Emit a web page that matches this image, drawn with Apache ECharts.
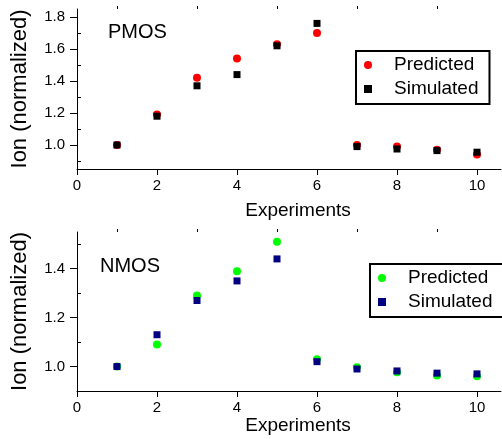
<!DOCTYPE html>
<html>
<head>
<meta charset="utf-8">
<script src="https://cdn.jsdelivr.net/npm/echarts@6/dist/echarts.min.js"></script>
<style>
html,body{margin:0;padding:0;background:#fff;}
#c{width:502px;height:439px;}
</style>
</head>
<body>
<div id="c"></div>
<script>
const experiments = [1, 2, 3, 4, 5, 6, 7, 8, 9, 10];
const pmosPredicted = [1.00, 1.19, 1.42, 1.54, 1.63, 1.70, 1.00, 0.99, 0.97, 0.94];
const pmosSimulated = [1.00, 1.18, 1.37, 1.44, 1.62, 1.76, 0.99, 0.975, 0.965, 0.955];
const nmosPredicted = [1.00, 1.09, 1.29, 1.39, 1.51, 1.03, 0.997, 0.977, 0.963, 0.96];
const nmosSimulated = [1.00, 1.13, 1.27, 1.35, 1.44, 1.02, 0.99, 0.982, 0.973, 0.97];
const xMajorTicks = [0, 2, 4, 6, 8, 10];
const xMinorTicks = [1, 3, 5, 7, 9];
const pmosMajorTicks = [1.0, 1.2, 1.4, 1.6, 1.8];
const pmosMinorTicks = [0.9, 1.1, 1.3, 1.5, 1.7];
const nmosMajorTicks = [1.0, 1.2, 1.4];
const nmosMinorTicks = [0.9, 1.1, 1.3, 1.5];
const seriesNames = ['Predicted', 'Simulated'];

const FONT = 'Liberation Sans';
const chart = echarts.init(document.getElementById('c'), null, {renderer: 'canvas'});

function pts(xs, ys) { return xs.map((x, i) => [x, ys[i]]); }

function xMajor(grid, nameGap) {
  return {
    type: 'value', gridIndex: grid, min: 0, max: 10.6,
    axisLine: {show: true, onZero: false, lineStyle: {color: '#000', width: 1}},
    axisTick: {show: true, customValues: xMajorTicks, length: 6, lineStyle: {color: '#000'}},
    axisLabel: {show: true, customValues: xMajorTicks, margin: 9, color: '#000', fontFamily: FONT, fontSize: 15},
    splitLine: {show: false},
    name: 'Experiments', nameLocation: 'middle', nameGap: nameGap,
    nameTextStyle: {color: '#000', fontFamily: FONT, fontSize: 19, padding: [0, 0, 0, 18]}
  };
}
function xMinor(grid) {
  return {
    type: 'value', gridIndex: grid, min: 0, max: 10.6,
    axisLine: {show: false},
    axisTick: {show: true, customValues: xMinorTicks, length: 3, lineStyle: {color: '#000'}},
    axisLabel: {show: false}, splitLine: {show: false}
  };
}
function yMajor(grid, min, max, ticks) {
  return {
    type: 'value', gridIndex: grid, min: min, max: max,
    axisLine: {show: true, onZero: false, lineStyle: {color: '#000', width: 1}},
    axisTick: {show: true, customValues: ticks, length: 7, lineStyle: {color: '#000'}},
    axisLabel: {show: true, customValues: ticks, margin: 12, color: '#000', fontFamily: FONT, fontSize: 15,
      formatter: v => v.toFixed(1)},
    splitLine: {show: false},
    name: 'Ion (normalized)', nameLocation: 'middle', nameGap: 46,
    nameTextStyle: {color: '#000', fontFamily: FONT, fontSize: 22}
  };
}
function yMinor(grid, min, max, ticks) {
  return {
    type: 'value', gridIndex: grid, min: min, max: max,
    axisLine: {show: false},
    axisTick: {show: true, customValues: ticks, length: 4, lineStyle: {color: '#000'}},
    axisLabel: {show: false}, splitLine: {show: false}
  };
}
function legendFor(names, left, top, icons) {
  return {
    orient: 'vertical', left: left, top: top,
    data: names.map((n, i) => ({name: n, icon: icons[i]})),
    formatter: name => name.split('|')[1],
    itemWidth: 8, itemHeight: 8, itemGap: 4,
    padding: [4, 11, 5, 8],
    borderColor: '#000', borderWidth: 2, backgroundColor: '#fff',
    selectedMode: false,
    textStyle: {color: '#000', fontFamily: FONT, fontSize: 19, lineHeight: 20, padding: [0, 0, 0, 17]}
  };
}

const option = {
  backgroundColor: '#fff',
  animation: false,
  grid: [
    {left: 77, top: 9, width: 424, height: 160},
    {left: 77, top: 232, width: 424, height: 159}
  ],
  xAxis: [xMajor(0, 32), xMinor(0), xMajor(1, 25), xMinor(1)],
  yAxis: [
    yMajor(0, 0.85, 1.85, pmosMajorTicks), yMinor(0, 0.85, 1.85, pmosMinorTicks),
    yMajor(1, 0.9, 1.55, nmosMajorTicks), yMinor(1, 0.9, 1.55, nmosMinorTicks)
  ],
  legend: [
    legendFor(seriesNames.map(s => 'PMOS|' + s), 356, 51, ['circle', 'rect']),
    legendFor(seriesNames.map(s => 'NMOS|' + s), 370, 264, ['circle', 'rect'])
  ],
  graphic: [
    {type: 'text', left: 108, top: 22, style: {text: 'PMOS', fontFamily: FONT, fontSize: 20, fill: '#000'}},
    {type: 'text', left: 100, top: 256, style: {text: 'NMOS', fontFamily: FONT, fontSize: 20, fill: '#000'}}
  ],
  series: [
    {name: 'PMOS|' + seriesNames[0], type: 'scatter', xAxisIndex: 0, yAxisIndex: 0, symbol: 'circle', symbolSize: 8,
      itemStyle: {color: '#ff0000', opacity: 1}, data: pts(experiments, pmosPredicted)},
    {name: 'PMOS|' + seriesNames[1], type: 'scatter', xAxisIndex: 0, yAxisIndex: 0, symbol: 'rect', symbolSize: 7,
      itemStyle: {color: '#000000', opacity: 1}, data: pts(experiments, pmosSimulated)},
    {name: 'NMOS|' + seriesNames[0], type: 'scatter', xAxisIndex: 2, yAxisIndex: 2, symbol: 'circle', symbolSize: 8,
      itemStyle: {color: '#00ff00', opacity: 1}, data: pts(experiments, nmosPredicted)},
    {name: 'NMOS|' + seriesNames[1], type: 'scatter', xAxisIndex: 2, yAxisIndex: 2, symbol: 'rect', symbolSize: 7,
      itemStyle: {color: '#000080', opacity: 1}, data: pts(experiments, nmosSimulated)}
  ]
};
chart.setOption(option);
</script>
</body>
</html>
